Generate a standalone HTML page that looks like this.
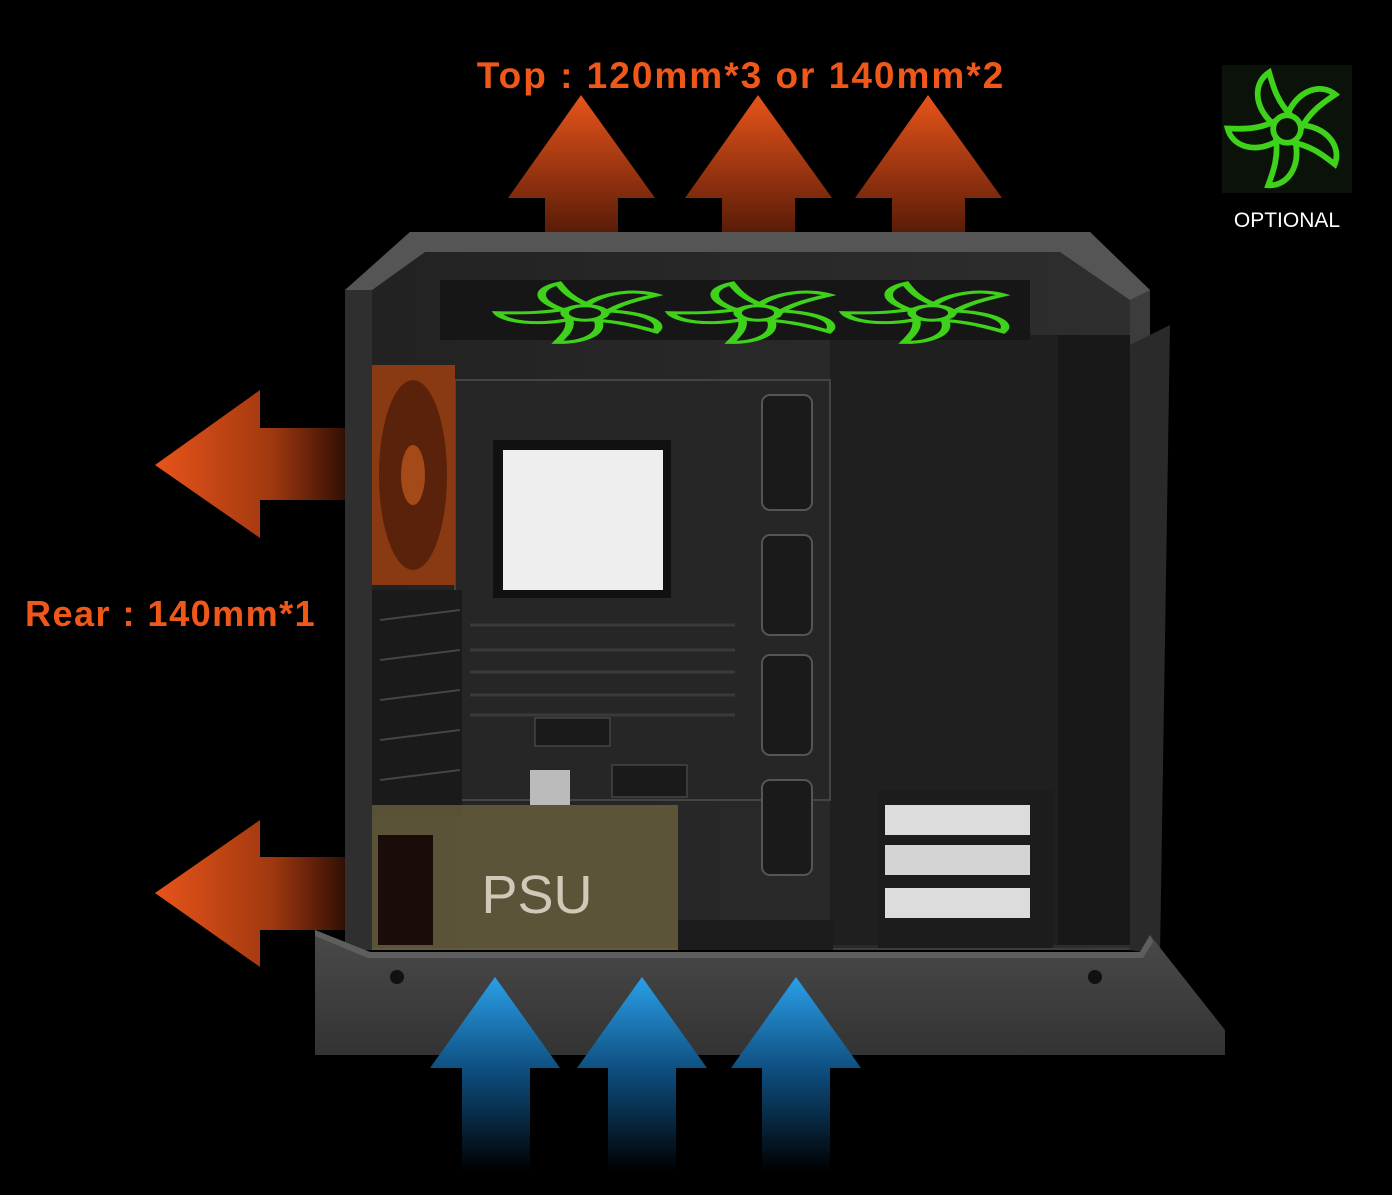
<!DOCTYPE html>
<html><head><meta charset="utf-8"><style>
html,body{margin:0;padding:0;background:#000;}
body{width:1392px;height:1190px;overflow:hidden;position:relative;font-family:"Liberation Sans",sans-serif;}
</style></head><body>
<svg width="1392" height="1190" viewBox="0 0 1392 1190" xmlns="http://www.w3.org/2000/svg">
<defs>
<linearGradient id="og" x1="0" y1="0" x2="0" y2="1"><stop offset="0" stop-color="#e8541a"/><stop offset="1" stop-color="#5a1c08"/></linearGradient>
<linearGradient id="olg" x1="0" y1="0" x2="1" y2="0"><stop offset="0" stop-color="#e8541a"/><stop offset="0.6" stop-color="#a0380f"/><stop offset="1" stop-color="#2a0c04"/></linearGradient>
<linearGradient id="bg" x1="0" y1="0" x2="0" y2="1"><stop offset="0" stop-color="#2aa0e8"/><stop offset="0.5" stop-color="#0d4a7a"/><stop offset="1" stop-color="#000"/></linearGradient>
<linearGradient id="panel" x1="0" y1="0" x2="1" y2="0"><stop offset="0" stop-color="#222"/><stop offset="1" stop-color="#2e2e2e"/></linearGradient>
<linearGradient id="base" x1="0" y1="0" x2="0" y2="1"><stop offset="0" stop-color="#4a4a4a"/><stop offset="1" stop-color="#333"/></linearGradient>
<g id="gfan" fill="none" stroke="#3fd21a" stroke-width="5">
<circle r="12"/>
<path d="M0-12 C10-35 30-40 42-30 C30-22 20-15 12 0"/>
<path d="M0-12 C10-35 30-40 42-30 C30-22 20-15 12 0" transform="rotate(72)"/>
<path d="M0-12 C10-35 30-40 42-30 C30-22 20-15 12 0" transform="rotate(144)"/>
<path d="M0-12 C10-35 30-40 42-30 C30-22 20-15 12 0" transform="rotate(216)"/>
<path d="M0-12 C10-35 30-40 42-30 C30-22 20-15 12 0" transform="rotate(288)"/>
</g>
</defs>

<g fill="url(#og)">
<polygon points="581,95 655,198 618,198 618,232 545,232 545,198 508,198"/>
<polygon points="758,95 832,198 795,198 795,232 722,232 722,198 685,198"/>
<polygon points="928,95 1002,198 965,198 965,232 892,232 892,198 855,198"/>
</g>
<text x="741" y="88" text-anchor="middle" fill="#f0581a" font-size="37" font-weight="bold" letter-spacing="2">Top : 120mm*3 or 140mm*2</text>

<rect x="1222" y="65" width="130" height="128" fill="#0a120a"/>
<g transform="translate(1287,129) scale(1.15)"><use href="#gfan"/></g>
<text x="1287" y="227" text-anchor="middle" fill="#fff" font-size="21">OPTIONAL</text>

<polygon points="155,465 260,390 260,428 350,428 350,500 260,500 260,538" fill="url(#olg)"/>
<polygon points="155,893 260,820 260,857 350,857 350,930 260,930 260,967" fill="url(#olg)"/>
<text x="25" y="626" fill="#f0581a" font-size="36" font-weight="bold" letter-spacing="1.5">Rear : 140mm*1</text>

<polygon points="345,290 410,232 1090,232 1150,290 1150,950 345,950" fill="#3c3c3c"/>
<polygon points="372,290 425,252 1060,252 1130,300 1130,948 372,948" fill="url(#panel)"/>
<rect x="345" y="290" width="27" height="660" fill="#2f2f2f"/>
<rect x="830" y="335" width="230" height="610" fill="#1f1f1f"/>
<rect x="1058" y="335" width="72" height="610" fill="#181818"/>
<polygon points="1130,345 1170,325 1160,955 1130,950" fill="#2a2a2a"/>
<polygon points="345,290 410,232 1090,232 1150,290 1130,300 1060,252 425,252 372,290" fill="#555"/>
<rect x="440" y="280" width="590" height="60" fill="#161616"/>
<g transform="translate(585,313) scale(1.7,0.6)"><use href="#gfan"/></g>
<g transform="translate(758,313) scale(1.7,0.6)"><use href="#gfan"/></g>
<g transform="translate(932,313) scale(1.7,0.6)"><use href="#gfan"/></g>
<rect x="455" y="380" width="375" height="420" fill="#262626" stroke="#444" stroke-width="2"/>
<rect x="493" y="440" width="178" height="158" fill="#111"/>
<rect x="503" y="450" width="160" height="140" fill="#eee"/>
<g fill="#1a1a1a" stroke="#555" stroke-width="2">
<rect x="762" y="395" width="50" height="115" rx="8"/>
<rect x="762" y="535" width="50" height="100" rx="8"/>
<rect x="762" y="655" width="50" height="100" rx="8"/>
<rect x="762" y="780" width="50" height="95" rx="8"/>
</g>
<g stroke="#3a3a3a" stroke-width="3">
<line x1="470" y1="625" x2="735" y2="625"/><line x1="470" y1="650" x2="735" y2="650"/>
<line x1="470" y1="672" x2="735" y2="672"/><line x1="470" y1="695" x2="735" y2="695"/>
<line x1="470" y1="715" x2="735" y2="715"/>
</g>
<rect x="535" y="718" width="75" height="28" fill="#1a1a1a" stroke="#555"/>
<rect x="612" y="765" width="75" height="32" fill="#1a1a1a" stroke="#555"/>
<rect x="530" y="770" width="40" height="35" fill="#bbb"/>
<rect x="372" y="365" width="83" height="220" fill="#8a3a12"/>
<ellipse cx="413" cy="475" rx="34" ry="95" fill="#5a220a"/>
<ellipse cx="413" cy="475" rx="12" ry="30" fill="#a44a18"/>
<rect x="372" y="590" width="90" height="225" fill="#1a1a1a"/>
<g stroke="#444" stroke-width="2"><line x1="380" y1="620" x2="460" y2="610"/><line x1="380" y1="660" x2="460" y2="650"/><line x1="380" y1="700" x2="460" y2="690"/><line x1="380" y1="740" x2="460" y2="730"/><line x1="380" y1="780" x2="460" y2="770"/></g>
<rect x="372" y="805" width="306" height="145" fill="#6e6440" opacity="0.75"/>
<rect x="378" y="835" width="55" height="110" fill="#1a0c08"/>
<text x="537" y="913" text-anchor="middle" fill="#cfcab8" font-size="54">PSU</text>
<rect x="678" y="920" width="155" height="30" fill="#1c1c1c"/>
<rect x="878" y="790" width="175" height="158" fill="#1c1c1c"/>
<rect x="885" y="805" width="145" height="30" fill="#dcdcdc"/>
<rect x="885" y="845" width="145" height="30" fill="#d4d4d4"/>
<rect x="885" y="888" width="145" height="30" fill="#dcdcdc"/>
<polygon points="315,930 370,952 1140,952 1150,935 1225,1030 1225,1055 315,1055" fill="url(#base)"/>
<polygon points="315,930 370,952 1140,952 1150,935 1153,942 1143,958 368,958 315,936" fill="#5e5e5e"/>
<circle cx="397" cy="977" r="7" fill="#111"/><circle cx="1095" cy="977" r="7" fill="#111"/>
<g fill="url(#bg)">
<polygon points="495,977 560,1068 530,1068 530,1172 462,1172 462,1068 430,1068"/>
<polygon points="642,977 707,1068 676,1068 676,1172 608,1172 608,1068 577,1068"/>
<polygon points="796,977 861,1068 830,1068 830,1172 762,1172 762,1068 731,1068"/>
</g>
</svg>
</body></html>
